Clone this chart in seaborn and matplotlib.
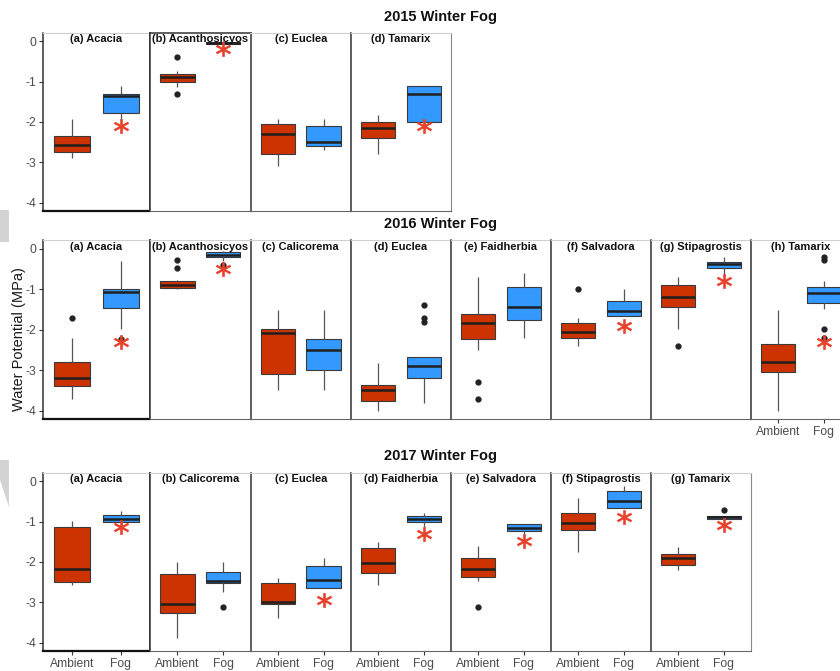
import numpy as np
import pandas as pd
import matplotlib.pyplot as plt
import seaborn as sns
from matplotlib.patches import Polygon

sns.set_theme(style="white")
plt.rcParams['font.family'] = ['Liberation Sans', 'DejaVu Sans']
plt.rcParams['axes.unicode_minus'] = False

AMB = '#CC3300'
FOG = '#3399FF'
STAR = '#E8412C'
groups = ['Ambient', 'Fog']

# box summaries: (whisker low, q1, median, q3, whisker high)
titles_2015 = ['(a) Acacia', '(b) Acanthosicyos', '(c) Euclea', '(d) Tamarix']
amb_2015 = [(-2.89, -2.75, -2.58, -2.35, -1.92), (-1.14, -1.00, -0.89, -0.82, -0.73),
            (-3.09, -2.80, -2.30, -2.06, -1.92), (-2.80, -2.40, -2.15, -2.00, -1.82)]
fog_2015 = [(-1.98, -1.78, -1.35, -1.31, -1.11), (-0.10, -0.08, -0.05, -0.03, 0.00),
            (-2.70, -2.60, -2.49, -2.10, -1.92), (-2.00, -2.00, -1.30, -1.10, -1.10)]
amb_out_2015 = [[], [-0.40, -1.30], [], []]
fog_out_2015 = [[], [], [], []]
star_2015 = [-2.10, -0.20, None, -2.10]

titles_2016 = ['(a) Acacia', '(b) Acanthosicyos', '(c) Calicorema', '(d) Euclea',
               '(e) Faidherbia', '(f) Salvadora', '(g) Stipagrostis', '(h) Tamarix']
amb_2016 = [(-3.70, -3.39, -3.20, -2.80, -2.20), (-1.00, -0.98, -0.89, -0.79, -0.78),
            (-3.48, -3.10, -2.09, -1.99, -1.52), (-4.00, -3.75, -3.49, -3.35, -2.81),
            (-2.50, -2.23, -1.84, -1.60, -0.70), (-2.39, -2.20, -2.05, -1.83, -1.70),
            (-1.99, -1.44, -1.19, -0.90, -0.70), (-4.00, -3.05, -2.80, -2.35, -1.52)]
fog_2016 = [(-1.99, -1.47, -1.07, -0.99, -0.30), (-0.30, -0.20, -0.15, -0.08, -0.07),
            (-3.48, -2.98, -2.50, -2.22, -1.52), (-3.80, -3.20, -2.89, -2.68, -2.68),
            (-2.20, -1.75, -1.44, -0.94, -0.61), (-1.66, -1.66, -1.55, -1.30, -0.99),
            (-0.68, -0.48, -0.39, -0.32, -0.20), (-1.49, -1.35, -1.09, -0.95, -0.80)]
amb_out_2016 = [[-1.70], [-0.29, -0.47], [], [], [-3.30, -3.70], [-0.99], [-2.40], []]
fog_out_2016 = [[-2.22], [-0.40], [], [-1.39, -1.70, -1.80], [], [], [],
                [-0.20, -0.28, -1.99, -2.20]]
star_2016 = [-2.30, -0.50, None, None, None, -1.91, -0.79, -2.30]

titles_2017 = ['(a) Acacia', '(b) Calicorema', '(c) Euclea', '(d) Faidherbia',
               '(e) Salvadora', '(f) Stipagrostis', '(g) Tamarix']
amb_2017 = [(-2.58, -2.50, -2.18, -1.14, -0.99), (-3.89, -3.26, -3.03, -2.29, -1.99),
            (-3.39, -3.04, -2.99, -2.53, -2.40), (-2.57, -2.28, -2.03, -1.66, -1.50),
            (-2.48, -2.36, -2.18, -1.90, -1.61), (-1.75, -1.21, -1.03, -0.78, -0.41),
            (-2.20, -2.07, -1.89, -1.81, -1.64)]
fog_2017 = [(-1.02, -1.02, -0.93, -0.83, -0.75), (-2.73, -2.51, -2.48, -2.24, -1.99),
            (-2.65, -2.65, -2.44, -2.09, -1.89), (-1.13, -1.02, -0.94, -0.87, -0.80),
            (-1.38, -1.24, -1.15, -1.07, -1.05), (-0.66, -0.66, -0.48, -0.25, -0.11),
            (-0.94, -0.94, -0.89, -0.86, -0.86)]
amb_out_2017 = [[], [], [], [], [-3.10], [], []]
fog_out_2017 = [[], [-3.10], [], [], [], [], [-0.72]]
star_2017 = [-1.14, None, -2.94, -1.30, -1.48, -0.89, -1.09]

row_titles = ['2015 Winter Fog', '2016 Winter Fog', '2017 Winter Fog']
rows = [(titles_2015, amb_2015, fog_2015, amb_out_2015, fog_out_2015, star_2015),
        (titles_2016, amb_2016, fog_2016, amb_out_2016, fog_out_2016, star_2016),
        (titles_2017, amb_2017, fog_2017, amb_out_2017, fog_out_2017, star_2017)]


def expand(summary, outliers, k=20):
    # sample whose quartiles / whisker ends reproduce the summary
    lo, q1, med, q3, hi = summary
    return [lo] + [q1] * k + [med] * k + [q3] * k + [hi] + list(outliers)


W, H = 840, 671
fig = plt.figure(figsize=(W / 100, H / 100), dpi=100)
row_px = [(33, 211), (240.5, 419), (473, 651)]
title_y = [17, 224, 456]
edges = [43, 150, 250.5, 351, 451, 551, 651, 751, 851]

for r, (titles, amb, fog, amb_out, fog_out, stars) in enumerate(rows):
    top, bot = row_px[r]
    n = len(titles)
    for i in range(n):
        x0, x1 = edges[i], edges[i + 1]
        ax = fig.add_axes([x0 / W, 1 - bot / H, (x1 - x0) / W, (bot - top) / H])
        a = expand(amb[i], amb_out[i])
        f = expand(fog[i], fog_out[i])
        df = pd.DataFrame({'group': ['Ambient'] * len(a) + ['Fog'] * len(f), 'wp': a + f})
        sns.boxplot(data=df, x='group', y='wp', hue='group', order=groups, hue_order=groups,
                    palette={'Ambient': AMB, 'Fog': FOG}, width=0.75, legend=False,
                    linecolor='#3a3a3a', linewidth=0.8, showcaps=False, saturation=1,
                    whiskerprops=dict(color='#555555', linewidth=0.9),
                    medianprops=dict(color='#1f1f1f', linewidth=1.8),
                    flierprops=dict(marker='o', markerfacecolor='#222222',
                                    markeredgecolor='#222222', markersize=3.5),
                    ax=ax)
        if stars[i] is not None:
            sns.stripplot(x=['Fog'], y=[stars[i]], order=groups, jitter=False,
                          marker='$\\mathbf{*}$', color=STAR, size=11, linewidth=0, ax=ax)
        ax.set_xlim(-0.6, 1.6)
        ax.set_ylim(-4.2, 0.2)
        ax.set_xlabel('')
        ax.set_ylabel('')
        ax.set_facecolor('white')
        ax.text(0.5, 1 - 6.5 / (bot - top), titles[i], transform=ax.transAxes,
                ha='center', va='center', fontweight='bold', fontsize=8, color='#111111')

        for s in ax.spines.values():
            s.set_visible(True)
        ax.spines['left'].set_color('#333333')
        ax.spines['left'].set_linewidth(1.1)
        ax.spines['top'].set_color('#d0d0d0')
        ax.spines['top'].set_linewidth(0.8)
        ax.spines['bottom'].set_color('#666666')
        ax.spines['bottom'].set_linewidth(0.8)
        if i == 0:
            ax.spines['bottom'].set_color('#111111')
            ax.spines['bottom'].set_linewidth(1.6)
            ax.spines['right'].set_color('#333333')
            ax.spines['right'].set_linewidth(1.2)
        elif i == n - 1:
            ax.spines['right'].set_color('#888888')
            ax.spines['right'].set_linewidth(0.8)
        else:
            ax.spines['right'].set_visible(False)
        if r == 0 and i == 1:
            ax.spines['top'].set_color('#333333')
            ax.spines['top'].set_linewidth(1.1)

        ax.set_yticks([0, -1, -2, -3, -4])
        ax.tick_params(axis='y', left=(i == 0), labelleft=(i == 0), length=3,
                       width=0.8, color='#333333', labelcolor='#4d4d4d',
                       labelsize=8.7, pad=2)
        show_x = (r == 2) or (r == 1 and i == n - 1)
        ax.tick_params(axis='x', bottom=show_x, labelbottom=show_x, length=3,
                       width=0.8, color='#333333', labelcolor='#4d4d4d',
                       labelsize=8.7, pad=2)

    fig.text(440 / W, 1 - title_y[r] / H, row_titles[r], ha='center', va='center',
             fontweight='bold', fontsize=10.5, color='#111111')

fig.text(19 / W, 1 - 339 / H, 'Water Potential (MPa)', rotation=90, ha='center',
         va='center', fontsize=10.5, color='#1a1a1a')

# grey artefacts at the left edge of the original composite
for pts in ([(0, 210), (9, 210), (9, 242), (0, 242)],
            [(0, 460), (9, 460), (9, 507), (0, 480)]):
    fig.patches.append(Polygon([(x / W, 1 - y / H) for x, y in pts], closed=True,
                               transform=fig.transFigure, facecolor='#d3d3d3',
                               edgecolor='none'))

plt.savefig('out.png', dpi=100)
